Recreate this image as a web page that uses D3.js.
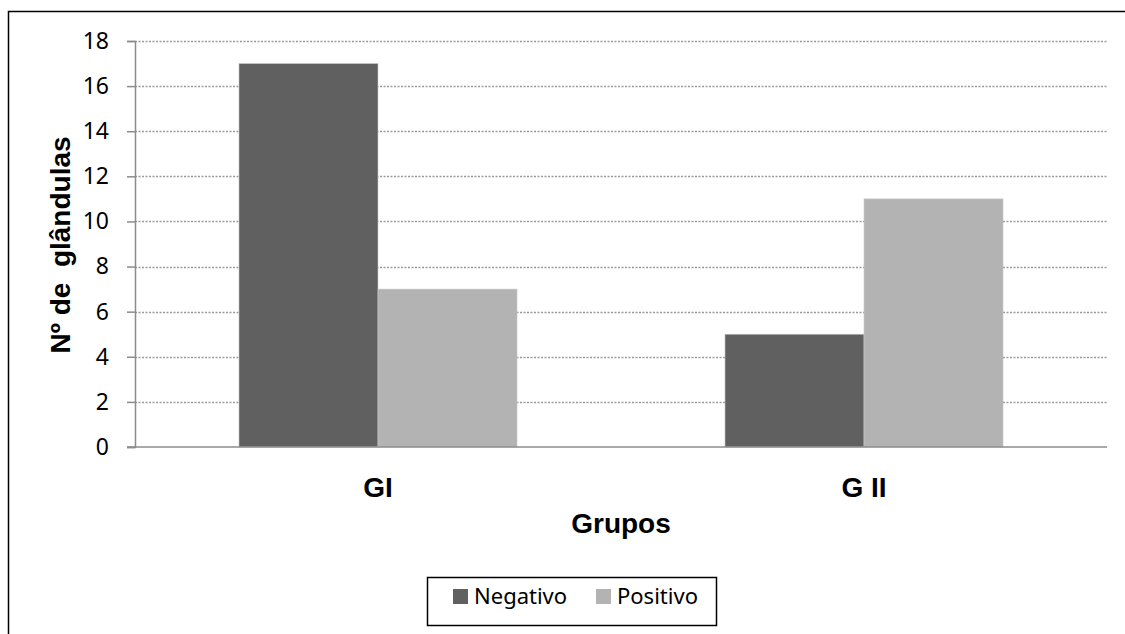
<!DOCTYPE html>
<html>
<head>
<meta charset="utf-8">
<script src="https://cdn.jsdelivr.net/npm/d3@7"></script>
<style>
  body { margin: 0; background: #fff; overflow: hidden; }
  svg { display: block; }
</style>
</head>
<body>
<svg id="chart"></svg>
<script>
const groups = ['GI', 'G II'];
const seriesNames = ['Negativo', 'Positivo'];
const negativo = [17, 5];
const positivo = [7, 11];
const yTicks = [0, 2, 4, 6, 8, 10, 12, 14, 16, 18];

const width = 1125;
const height = 634;
const plotLeft = 135, plotRight = 1107, plotTop = 41, plotBottom = 447;
const colors = { Negativo: '#606060', Positivo: '#b3b3b3' };

const svg = d3.select('#chart').attr('width', width).attr('height', height);

// outer frame: only its left and top edges are inside the picture
svg.append('path')
  .attr('d', `M8.5,${height} V11.5 H${width}`)
  .attr('fill', 'none').attr('stroke', '#000').attr('stroke-width', 1.5);

const rows = groups.map((g, i) => ({ group: g, Negativo: negativo[i], Positivo: positivo[i] }));

const yScale = d3.scaleLinear().domain([0, 18]).range([plotBottom, plotTop]);
const x0 = d3.scaleBand().domain(groups).range([plotLeft, plotRight]).padding(0);
const x1 = d3.scaleBand().domain(seriesNames).range([0, x0.bandwidth()])
  .paddingInner(0).paddingOuter(0.748);

// grid
svg.append('g')
  .selectAll('line')
  .data(yTicks.filter(d => d > 0))
  .join('line')
  .attr('x1', plotLeft).attr('x2', plotRight)
  .attr('y1', d => Math.round(yScale(d)) + 0.5)
  .attr('y2', d => Math.round(yScale(d)) + 0.5)
  .attr('stroke', '#9a9a9a')
  .attr('stroke-width', 1.3)
  .attr('stroke-dasharray', '2,1.5');

// bars
svg.append('g')
  .selectAll('g')
  .data(rows)
  .join('g')
  .attr('transform', d => `translate(${x0(d.group)},0)`)
  .selectAll('rect')
  .data(d => seriesNames.map(k => ({ key: k, value: d[k] })))
  .join('rect')
  .attr('x', d => x1(d.key))
  .attr('width', x1.bandwidth())
  .attr('y', d => yScale(d.value))
  .attr('height', d => plotBottom - yScale(d.value))
  .attr('fill', d => colors[d.key])
  .attr('stroke', '#c8c8c8')
  .attr('stroke-width', 0.6);

// y axis
const yAxis = d3.axisLeft(yScale).tickValues(yTicks).tickSize(8).tickPadding(18);
const yg = svg.append('g').attr('transform', `translate(${plotLeft},0)`).call(yAxis);
yg.select('.domain').attr('stroke', '#8c8c8c').attr('stroke-width', 1.5);
yg.selectAll('.tick line').attr('stroke', '#8c8c8c').attr('stroke-width', 1.5);
yg.selectAll('.tick text')
  .attr('font-family', "'Noto Sans', sans-serif")
  .attr('font-size', 23)
  .attr('fill', '#000');

// x axis baseline
svg.append('line')
  .attr('x1', plotLeft - 8).attr('x2', plotRight)
  .attr('y1', plotBottom).attr('y2', plotBottom)
  .attr('stroke', '#8c8c8c').attr('stroke-width', 1.5);

// group labels
svg.append('g')
  .selectAll('text')
  .data(groups)
  .join('text')
  .attr('x', d => x0(d) + x0.bandwidth() / 2)
  .attr('y', 497)
  .attr('text-anchor', 'middle')
  .attr('font-family', "'Liberation Sans', Arial, sans-serif")
  .attr('font-weight', 'bold')
  .attr('font-size', 28)
  .text(d => d);

svg.append('text')
  .attr('x', 621).attr('y', 533)
  .attr('text-anchor', 'middle')
  .attr('font-family', "'Liberation Sans', Arial, sans-serif")
  .attr('font-weight', 'bold')
  .attr('font-size', 28)
  .text('Grupos');

svg.append('text')
  .attr('transform', 'translate(70,245) rotate(-90)')
  .attr('text-anchor', 'middle')
  .attr('font-family', "'Liberation Sans', Arial, sans-serif")
  .attr('font-weight', 'bold')
  .attr('font-size', 28)
  .attr('xml:space', 'preserve')
  .text('Nº de  glândulas');

// legend
const legend = svg.append('g');
legend.append('rect')
  .attr('x', 427.5).attr('y', 577.5)
  .attr('width', 289).attr('height', 48)
  .attr('fill', '#fff').attr('stroke', '#000').attr('stroke-width', 1.5);

const legendX = [453, 596];
const items = legend.selectAll('g.item')
  .data(seriesNames)
  .join('g')
  .attr('class', 'item')
  .attr('transform', (d, i) => `translate(${legendX[i]},589)`);

items.append('rect')
  .attr('width', 15).attr('height', 15)
  .attr('fill', d => colors[d]);

items.append('text')
  .attr('x', 21).attr('y', 15)
  .attr('font-family', "'Noto Sans', sans-serif")
  .attr('font-size', 22)
  .text(d => d);
</script>
</body>
</html>
